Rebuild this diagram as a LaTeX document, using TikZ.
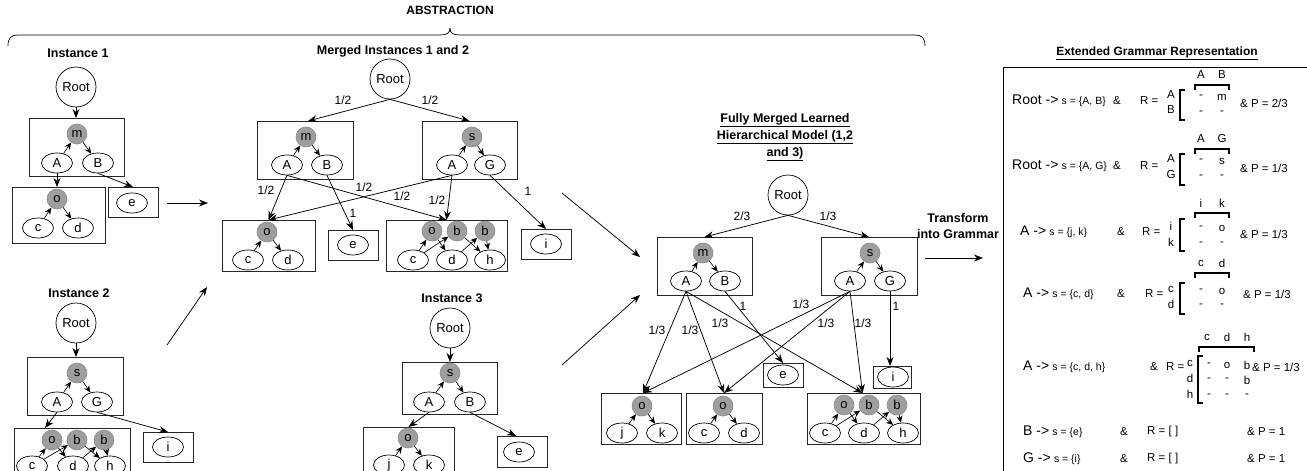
\documentclass[tikz,border=0pt]{standalone}
\usepackage{fontspec}
\setmainfont{Liberation Sans}
\usetikzlibrary{shapes.geometric,arrows.meta,calc}
\newcommand{\myfs}[1]{\fontsize{#1}{#1}\selectfont}
\newcommand{\mybox}[5]{\node[box,minimum width=#4pt,minimum height=#5pt] (#1) at (#2,#3) {};}
\begin{document}
\begin{tikzpicture}[x=1pt,y=-1pt,
 box/.style={draw=black!85,line width=1pt,inner sep=0pt,outer sep=0pt,anchor=north west},
 gc/.style={circle,draw=black!45,fill=black!38,line width=0.6pt,minimum size=20pt,inner sep=0pt,font=\myfs{13}},
 el/.style={ellipse,draw,line width=0.7pt,minimum width=31pt,minimum height=20pt,inner sep=0pt,font=\myfs{13}},
 rt/.style={circle,draw,line width=0.7pt,minimum size=40pt,inner sep=0pt,font=\myfs{13}},
 arr/.style={-{Stealth[length=9pt,width=7pt]},line width=0.75pt},
 iarr/.style={-{Stealth[length=7pt,width=6pt]},line width=0.65pt},
 lbl/.style={font=\myfs{12},inner sep=0pt},
 ttl/.style={font=\bfseries\myfs{12.5},inner sep=0pt},
 gt/.style={font=\myfs{11.5},inner sep=0pt,anchor=west},
 mt/.style={font=\myfs{11.5},inner sep=0pt},
 mbr/.style={line width=1.8pt}
]
\useasboundingbox (0,0) rectangle (1307,471);

% ---------- brace ----------
\draw[line width=0.7pt] (8,46) .. controls (8,38) and (11,35) .. (18,35) -- (440,35) .. controls (447,35) and (450,33) .. (450,28);
\draw[line width=0.7pt] (450,28) .. controls (450,33) and (453,35) .. (460,35) -- (915,35) .. controls (922,35) and (925,38) .. (925,46);
\node[ttl,font=\bfseries\myfs{12}] (abs) at (450,10) {ABSTRACTION};

% ---------- Instance 1 ----------
\node[ttl] (t1) at (78,53) {Instance 1};
\node[rt] (r1) at (76,87) {Root};
\mybox{bm1}{29}{118}{95}{58}
\node[gc] (m1) at (77,134) {m};
\node[el] (a1) at (57,163) {A};
\node[el] (b1) at (98,163) {B};
\draw[iarr] (a1) -- (m1); \draw[iarr] (m1) -- (b1);
\draw[arr] (r1) -- (r1 |- bm1.north);
\mybox{bo1}{12}{187}{93}{56}
\node[gc] (o1) at (57,199) {o};
\node[el] (c1) at (38,228) {c};
\node[el] (d1) at (78,228) {d};
\draw[iarr] (c1) -- (o1); \draw[iarr] (o1) -- (d1);
\mybox{be1}{108}{187}{50}{30}
\node[el] (e1) at (132,203) {e};
\draw[arr] (a1) -- (a1 |- bo1.north);
\draw[arr] (b1.south) -- (be1.north);
\coordinate (h1s) at (167,203); \coordinate (h1e) at (208,203);
\draw[arr] (h1s) -- (h1e);

% ---------- Instance 2 ----------
\node[ttl] (t2) at (79,293) {Instance 2};
\node[rt] (r2) at (76,323) {Root};
\mybox{bs2}{27}{357}{96}{58}
\node[gc] (s2) at (77,373) {s};
\node[el] (a2) at (57,402) {A};
\node[el] (g2) at (97,402) {G};
\draw[iarr] (a2) -- (s2); \draw[iarr] (s2) -- (g2);
\draw[arr] (r2) -- (r2 |- bs2.north);
\mybox{bx2}{14}{428}{116}{62}
\node[gc] (o2) at (52,440) {o};
\node[gc] (p2) at (77,440) {b};
\node[gc] (q2) at (104,440) {b};
\node[el] (c2) at (32,466) {c};
\node[el] (d2) at (73,466) {d};
\node[el] (hh2) at (110,466) {h};
\draw[iarr] (c2) -- (o2); \draw[iarr] (o2) -- (d2);
\draw[iarr] (c2) -- (p2); \draw[iarr] (p2) -- (hh2);
\draw[iarr] (d2) -- (q2); \draw[iarr] (q2) -- (hh2);
\mybox{bi2}{143}{432}{50}{30}
\node[el] (i2) at (168,447) {i};
\draw[arr] (a2.south) -- ([xshift=-27pt]bx2.north);
\draw[arr] (g2.south) -- (bi2.north);
\coordinate (h2s) at (167,345); \coordinate (h2e) at (207,287);
\draw[arr] (h2s) -- (h2e);

% ---------- Merged 1 and 2 ----------
\node[ttl] (t12) at (393,51) {Merged Instances 1 and 2};
\node[rt] (r12) at (390,79) {Root};
\mybox{bm12}{257}{121}{96}{58}
\node[gc] (m12) at (306,137) {m};
\node[el] (a12) at (287,165) {A};
\node[el] (b12) at (327,165) {B};
\draw[iarr] (a12) -- (m12); \draw[iarr] (m12) -- (b12);
\mybox{bs12}{422}{121}{95}{58}
\node[gc] (s12) at (472,137) {s};
\node[el] (as12) at (452,165) {A};
\node[el] (g12) at (490,165) {G};
\draw[iarr] (as12) -- (s12); \draw[iarr] (s12) -- (g12);
\draw[arr] (r12.south) -- ([xshift=3pt]bm12.north);
\draw[arr] (r12.south) -- (bs12.north);
\node[lbl] (l1) at (343,100) {1/2};
\node[lbl] (l2) at (430,100) {1/2};
\mybox{bo12}{222}{220}{93}{51}
\node[gc] (o12) at (267,232) {o};
\node[el] (c12) at (248,260) {c};
\node[el] (d12) at (288,260) {d};
\draw[iarr] (c12) -- (o12); \draw[iarr] (o12) -- (d12);
\mybox{be12}{328}{230}{50}{30}
\node[el] (e12) at (353,245) {e};
\mybox{bx12}{386}{220}{121}{51}
\node[gc] (ox12) at (432,231) {o};
\node[gc] (px12) at (457,231) {b};
\node[gc] (qx12) at (485,231) {b};
\node[el] (cx12) at (413,260) {c};
\node[el] (dx12) at (452,260) {d};
\node[el] (hx12) at (490,260) {h};
\draw[iarr] (cx12) -- (ox12); \draw[iarr] (ox12) -- (dx12);
\draw[iarr] (cx12) -- (px12); \draw[iarr] (px12) -- (hx12);
\draw[iarr] (dx12) -- (qx12); \draw[iarr] (qx12) -- (hx12);
\mybox{bi12}{521}{229}{50}{30}
\node[el] (i12) at (546,244) {i};
\draw[arr] (a12.south) -- (bo12.north);
\draw[arr] (a12.south) -- (bx12.north);
\draw[arr] (b12.south) -- (be12.north);
\draw[arr] (as12.south) -- (bo12.north);
\draw[arr] (as12.south) -- (bx12.north);
\draw[arr] (g12.south) -- (bi12.north);
\node[lbl] (l3) at (266,190) {1/2};
\node[lbl] (l4) at (364,187) {1/2};
\node[lbl] (l5) at (353,213) {1};
\node[lbl] (l6) at (402,196) {1/2};
\node[lbl] (l7) at (437,200) {1/2};
\node[lbl] (l8) at (528,191) {1};
\coordinate (h3s) at (562,193); \coordinate (h3e) at (640,257);
\draw[arr] (h3s) -- (h3e);

% ---------- Instance 3 ----------
\node[ttl] (t3) at (452,298) {Instance 3};
\node[rt] (r3) at (450,328) {Root};
\mybox{bs3}{402}{362}{95}{52}
\node[gc] (s3) at (450,373) {s};
\node[el] (a3) at (429,402) {A};
\node[el] (b3) at (470,402) {B};
\draw[iarr] (a3) -- (s3); \draw[iarr] (s3) -- (b3);
\draw[arr] (r3) -- (r3 |- bs3.north);
\mybox{bo3}{363}{427}{91}{62}
\node[gc] (o3) at (408,438) {o};
\node[el] (j3) at (389,465) {j};
\node[el] (k3) at (429,465) {k};
\draw[iarr] (j3) -- (o3); \draw[iarr] (o3) -- (k3);
\mybox{be3}{497}{436}{50}{31}
\node[el] (e3) at (519,452) {e};
\draw[arr] (a3.south) -- (bo3.north);
\draw[arr] (b3.south) -- ([xshift=-6pt]be3.north);
\coordinate (h4s) at (562,365); \coordinate (h4e) at (640,295);
\draw[arr] (h4s) -- (h4e);

% ---------- Fully merged ----------
\node[ttl,align=center] (tf) at (785,137) {\underline{Fully Merged Learned}\\[2.5pt]\underline{Hierarchical Model (1,2}\\[2.5pt]\underline{and 3)}};
\node[rt] (rf) at (788,195) {Root};
\mybox{bmf}{657}{237}{95}{58}
\node[gc] (mf) at (703,253) {m};
\node[el] (af) at (686,281) {A};
\node[el] (bf) at (725,281) {B};
\draw[iarr] (af) -- (mf); \draw[iarr] (mf) -- (bf);
\mybox{bsf}{821}{237}{96}{58}
\node[gc] (sf) at (870,253) {s};
\node[el] (asf) at (850,281) {A};
\node[el] (gf) at (890,281) {G};
\draw[iarr] (asf) -- (sf); \draw[iarr] (sf) -- (gf);
\draw[arr] (rf.south) -- (bmf.north);
\draw[arr] (rf.south) -- (bsf.north);
\node[lbl] (l9) at (742,216) {2/3};
\node[lbl] (l10) at (828,216) {1/3};
\mybox{bef}{763}{363}{40}{24}
\node[el] (ef) at (783,375) {e};
\mybox{bif}{873}{366}{38}{22}
\node[el] (if) at (893,377) {i};
\mybox{bjk}{601}{393}{80}{51}
\node[gc] (ojk) at (642,406) {o};
\node[el] (jjk) at (622,433) {j};
\node[el] (kjk) at (662,433) {k};
\draw[iarr] (jjk) -- (ojk); \draw[iarr] (ojk) -- (kjk);
\mybox{bcd}{686}{393}{76}{51}
\node[gc] (ocd) at (723,406) {o};
\node[el] (ccd) at (704,433) {c};
\node[el] (dcd) at (744,433) {d};
\draw[iarr] (ccd) -- (ocd); \draw[iarr] (ocd) -- (dcd);
\mybox{bxf}{807}{393}{113}{51}
\node[gc] (oxf) at (844,405) {o};
\node[gc] (pxf) at (869,405) {b};
\node[gc] (qxf) at (897,405) {b};
\node[el] (cxf) at (825,433) {c};
\node[el] (dxf) at (864,433) {d};
\node[el] (hxf) at (903,433) {h};
\draw[iarr] (cxf) -- (oxf); \draw[iarr] (oxf) -- (dxf);
\draw[iarr] (cxf) -- (pxf); \draw[iarr] (pxf) -- (hxf);
\draw[iarr] (dxf) -- (qxf); \draw[iarr] (qxf) -- (hxf);
\draw[arr] (af.south) -- ([xshift=2pt]bjk.north);
\draw[arr] (af.south) -- (bcd.north);
\draw[arr] (af.south) -- ([xshift=-1pt]bxf.north);
\draw[arr] (bf.south) -- (bef.north);
\draw[arr] (asf.south) -- ([xshift=2pt]bjk.north);
\draw[arr] (asf.south) -- (bcd.north);
\draw[arr] (asf.south) -- ([xshift=-1pt]bxf.north);
\draw[arr] (gf.south) -- (gf.south |- bif.north);
\node[lbl] (l11) at (657,330) {1/3};
\node[lbl] (l12) at (690,330) {1/3};
\node[lbl] (l13) at (720,323) {1/3};
\node[lbl] (l14) at (743,306) {1};
\node[lbl] (l15) at (801,304) {1/3};
\node[lbl] (l16) at (826,323) {1/3};
\node[lbl] (l17) at (863,323) {1/3};
\node[lbl] (l18) at (896,306) {1};

% ---------- Transform ----------
\node[ttl,align=center] (tr) at (958,226) {Transform\\[3pt]into Grammar};
\coordinate (h5s) at (925,258); \coordinate (h5e) at (983,258);
\draw[arr] (h5s) -- (h5e);

% ---------- Grammar ----------
\node[ttl,font=\bfseries\myfs{12}] (gtt) at (1157,53) {\underline{Extended Grammar Representation}};
\draw[line width=0.9pt] (1312,67) -- (1003,67) -- (1003,476);

% row 1
\node[gt] (g1a) at (1012,101) {{\myfs{14}Root ->} {\myfs{10.5}s = \{A, B\}}};
\node[gt] (g1b) at (1113,101) {\&};
\node[gt] (g1c) at (1140,101) {R =};
\node[gt] (g1d) at (1240,103) {\& P = 2/3};
\node[mt] (m1h1) at (1201,75) {A}; \node[mt] (m1h2) at (1222,75) {B};
\draw[mbr] (1195,90) -- (1195,85) -- (1229,85) -- (1229,90);
\node[mt] (m1r1) at (1171,95) {A}; \node[mt] (m1r2) at (1171,110) {B};
\draw[mbr] (1185,90) -- (1180,90) -- (1180,120) -- (1185,120);
\node[mt] (m1e11) at (1201,97) {-}; \node[mt] (m1e12) at (1222,97) {m};
\node[mt] (m1e21) at (1201,113) {-}; \node[mt] (m1e22) at (1222,113) {-};

% row 2
\node[gt] (g2a) at (1012,166) {{\myfs{14}Root ->} {\myfs{10.5}s = \{A, G\}}};
\node[gt] (g2b) at (1113,166) {\&};
\node[gt] (g2c) at (1140,166) {R =};
\node[gt] (g2d) at (1240,168) {\& P = 1/3};
\node[mt] (m2h1) at (1201,139) {A}; \node[mt] (m2h2) at (1222,139) {G};
\draw[mbr] (1195,154) -- (1195,149) -- (1229,149) -- (1229,154);
\node[mt] (m2r1) at (1171,159) {A}; \node[mt] (m2r2) at (1171,175) {G};
\draw[mbr] (1185,154) -- (1180,154) -- (1180,185) -- (1185,185);
\node[mt] (m2e11) at (1201,161) {-}; \node[mt] (m2e12) at (1222,161) {s};
\node[mt] (m2e21) at (1201,177) {-}; \node[mt] (m2e22) at (1222,177) {-};

% row 3
\node[gt] (g3a) at (1020,232) {{\myfs{14}A ->} {\myfs{10.5}s = \{j, k\}}};
\node[gt] (g3b) at (1117,232) {\&};
\node[gt] (g3c) at (1142,232) {R =};
\node[gt] (g3d) at (1240,234) {\& P = 1/3};
\node[mt] (m3h1) at (1201,203) {i}; \node[mt] (m3h2) at (1222,203) {k};
\draw[mbr] (1195,218) -- (1195,213) -- (1229,213) -- (1229,218);
\node[mt] (m3r1) at (1171,226) {i}; \node[mt] (m3r2) at (1171,242) {k};
\draw[mbr] (1185,219) -- (1180,219) -- (1180,251) -- (1185,251);
\node[mt] (m3e11) at (1201,228) {-}; \node[mt] (m3e12) at (1222,228) {o};
\node[mt] (m3e21) at (1201,244) {-}; \node[mt] (m3e22) at (1222,244) {-};

% row 4
\node[gt] (g4a) at (1023,294) {{\myfs{14}A ->} {\myfs{10.5}s = \{c, d\}}};
\node[gt] (g4b) at (1117,294) {\&};
\node[gt] (g4c) at (1145,294) {R =};
\node[gt] (g4d) at (1243,294) {\& P = 1/3};
\node[mt] (m4h1) at (1201,263) {c}; \node[mt] (m4h2) at (1222,263) {d};
\draw[mbr] (1195,278) -- (1195,273) -- (1229,273) -- (1229,278);
\node[mt] (m4r1) at (1171,289) {c}; \node[mt] (m4r2) at (1171,304) {d};
\draw[mbr] (1185,283) -- (1180,283) -- (1180,314) -- (1185,314);
\node[mt] (m4e11) at (1201,291) {-}; \node[mt] (m4e12) at (1222,291) {o};
\node[mt] (m4e21) at (1201,306) {-}; \node[mt] (m4e22) at (1222,306) {-};

% row 5
\node[gt] (g5a) at (1023,367) {{\myfs{14}A ->} {\myfs{10.5}s = \{c, d, h\}}};
\node[gt] (g5b) at (1150,367) {\&};
\node[gt] (g5c) at (1166,367) {R =};
\node[gt] (g5d) at (1252,367) {\& P = 1/3};
\node[mt] (m5h1) at (1207,337) {c}; \node[mt] (m5h2) at (1227,337) {d}; \node[mt] (m5h3) at (1247,337) {h};
\draw[mbr] (1199,352) -- (1199,347) -- (1254,347) -- (1254,352);
\node[mt] (m5r1) at (1190,363) {c}; \node[mt] (m5r2) at (1190,378) {d}; \node[mt] (m5r3) at (1190,394) {h};
\draw[mbr] (1203,356) -- (1198,356) -- (1198,403) -- (1203,403);
\node[mt] (m5e11) at (1209,365) {-}; \node[mt] (m5e12) at (1227,365) {o}; \node[mt] (m5e13) at (1247,365) {b};
\node[mt] (m5e21) at (1209,380) {-}; \node[mt] (m5e22) at (1227,380) {-}; \node[mt] (m5e23) at (1247,380) {b};
\node[mt] (m5e31) at (1209,396) {-}; \node[mt] (m5e32) at (1227,396) {-}; \node[mt] (m5e33) at (1247,396) {-};

% rows 6,7
\node[gt] (g6a) at (1023,432) {{\myfs{14}B ->} {\myfs{10.5}s = \{e\}}};
\node[gt] (g6b) at (1120,432) {\&};
\node[gt] (g6c) at (1147,432) {R = [ ]};
\node[gt] (g6d) at (1247,432) {\& P = 1};
\node[gt] (g7a) at (1023,459) {{\myfs{14}G ->} {\myfs{10.5}s = \{i\}}};
\node[gt] (g7b) at (1120,459) {\&};
\node[gt] (g7c) at (1147,459) {R = [ ]};
\node[gt] (g7d) at (1247,459) {\& P = 1};
\end{tikzpicture}
\end{document}
